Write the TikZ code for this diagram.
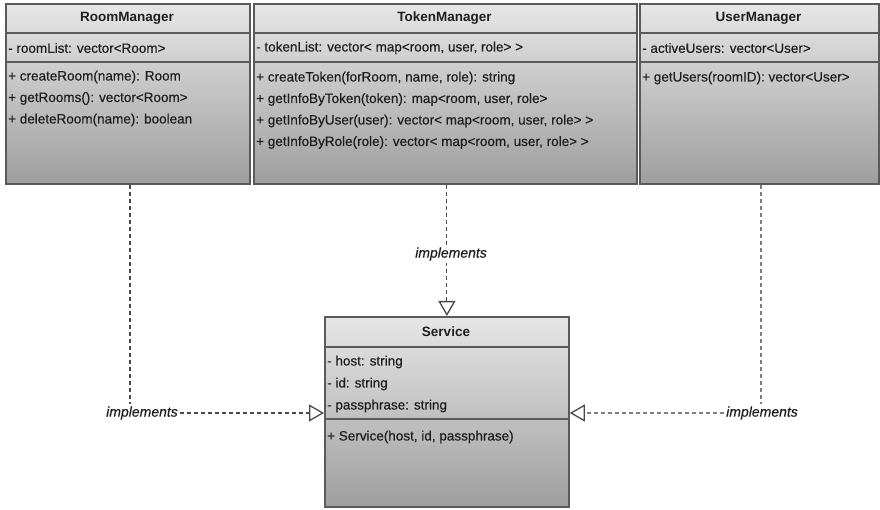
\documentclass[tikz,border=0pt]{standalone}
\usepackage{fontspec}
\setmainfont{Liberation Sans}
\newfontfamily\heavyface{Liberation Sans}[FakeBold=0.35]
\usetikzlibrary{arrows.meta}

\definecolor{edge}{HTML}{5A5A5A}
\definecolor{ink}{HTML}{1E1E1E}
\definecolor{boxtop}{HTML}{E6E6E6}
\definecolor{boxbot}{HTML}{9E9E9E}
\definecolor{dashcol}{HTML}{4A4A4A}
\definecolor{dashlight}{HTML}{7E7E7E}

\begin{document}
\begin{tikzpicture}[x=1pt,y=-1pt,
  classbox/.style={draw=edge, line width=1.8pt, rectangle, anchor=north west,
    top color=boxtop, bottom color=boxbot, inner sep=0pt},
  divider/.style={draw=edge, line width=1.8pt},
  title/.style={font=\fontsize{13.5}{16}\selectfont\bfseries, text=ink, inner sep=0pt},
  member/.style={font=\heavyface\fontsize{13.5}{16}\selectfont, text=ink, anchor=west, inner sep=0pt},
  realize/.style={draw=dashcol, line width=1.1pt, dash pattern=on 4.5pt off 2.5pt},
  realtip/.style={-{Triangle[length=15pt,width=17pt,fill=white,color=dashcol,line width=1.3pt]}},
  tag/.style={font=\heavyface\fontsize{14}{16}\selectfont\itshape, text=ink, fill=white, inner sep=2pt}
]
\useasboundingbox (0,0) rectangle (880,510);

% ---- RoomManager
\node[classbox, minimum width=244pt, minimum height=180pt] (rm) at (5,3) {};
\draw[divider] (rm.west |- 0,33) -- (rm.east |- 0,33);
\draw[divider] (rm.west |- 0,62) -- (rm.east |- 0,62);
\node[title] (rm-name) at (127,18) {RoomManager};
\node[member] (rm-a1) at (8,48) {- roomList: vector<Room>};
\node[member] (rm-m1) at (8,77) {+ createRoom(name): Room};
\node[member] (rm-m2) at (8,98.5) {+ getRooms(): vector<Room>};
\node[member] (rm-m3) at (8,120) {+ deleteRoom(name): boolean};

% ---- TokenManager
\node[classbox, minimum width=383pt, minimum height=180pt] (tm) at (253,3) {};
\draw[divider] (tm.west |- 0,33) -- (tm.east |- 0,33);
\draw[divider] (tm.west |- 0,62) -- (tm.east |- 0,62);
\node[title] (tm-name) at (444.5,18) {TokenManager};
\node[member] (tm-a1) at (256,48) {- tokenList: vector< map<room, user, role> >};
\node[member] (tm-m1) at (256,78) {+ createToken(forRoom, name, role): string};
\node[member] (tm-m2) at (256,99.5) {+ getInfoByToken(token): map<room, user, role>};
\node[member] (tm-m3) at (256,121) {+ getInfoByUser(user): vector< map<room, user, role> >};
\node[member] (tm-m4) at (256,142.5) {+ getInfoByRole(role): vector< map<room, user, role> >};

% ---- UserManager
\node[classbox, minimum width=239pt, minimum height=180pt] (um) at (639,3) {};
\draw[divider] (um.west |- 0,33) -- (um.east |- 0,33);
\draw[divider] (um.west |- 0,62) -- (um.east |- 0,62);
\node[title] (um-name) at (758.5,18) {UserManager};
\node[member] (um-a1) at (642,48) {- activeUsers: vector<User>};
\node[member] (um-m1) at (642,78) {+ getUsers(roomID): vector<User>};

% ---- Service
\node[classbox, minimum width=244pt, minimum height=190pt] (svc) at (324,316) {};
\draw[divider] (svc.west |- 0,347) -- (svc.east |- 0,347);
\draw[divider] (svc.west |- 0,419) -- (svc.east |- 0,419);
\node[title] (svc-name) at (446,332) {Service};
\node[member] (svc-a1) at (327,362) {- host: string};
\node[member] (svc-a2) at (327,384) {- id: string};
\node[member] (svc-a3) at (327,406) {- passphrase: string};
\node[member] (svc-m1) at (327,437) {+ Service(host, id, passphrase)};

% ---- realization connectors
\node[tag] (lblL) at (142,413) {implements};
\node[tag] (lblR) at (762,413) {implements};
\coordinate (bendL) at (130,413);
\coordinate (bendR) at (761,413);

\draw[realize] (bendL |- rm.south) -- (bendL |- lblL.north);
\draw[realize, realtip] (lblL.east) -- (svc.west |- lblL.east);

\draw[realize, draw=dashlight] (bendR |- um.south) -- (bendR |- lblR.north);
\draw[realize, draw=dashlight, realtip] (lblR.west) -- (svc.east |- lblR.west);

\draw[realize, realtip] (svc.north |- tm.south) -- (svc.north);
\node[tag] (lblM) at (451,254) {implements};
\end{tikzpicture}
\end{document}
